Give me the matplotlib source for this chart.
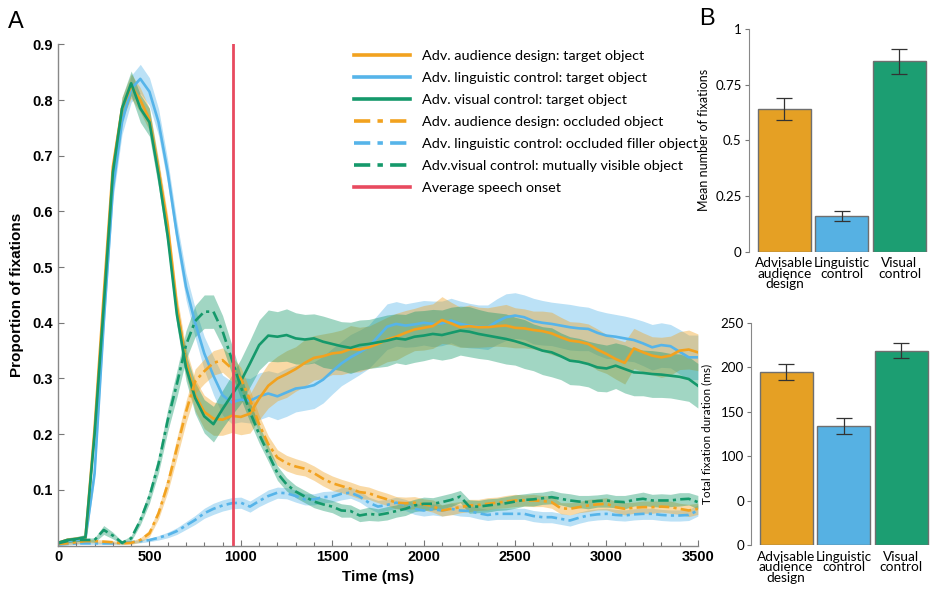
import numpy as np
import matplotlib
matplotlib.use('Agg')
import matplotlib.pyplot as plt
from matplotlib.lines import Line2D
from matplotlib.ticker import MultipleLocator

# time axis of the eye-tracking curves, 50 ms bins
time_ms = np.arange(0, 3501, 50)

# mean proportion of fixations per condition
ad_target = [
    0.005, 0.010, 0.012, 0.014, 0.210, 0.450, 0.680, 0.785, 0.825, 0.800,
    0.765, 0.675, 0.575, 0.430, 0.330, 0.270, 0.240, 0.228, 0.226, 0.233,
    0.231, 0.237, 0.264, 0.287, 0.300, 0.308, 0.317, 0.328, 0.337, 0.340,
    0.345, 0.347, 0.353, 0.352, 0.356, 0.362, 0.370, 0.375, 0.382, 0.388,
    0.391, 0.394, 0.405, 0.399, 0.392, 0.394, 0.392, 0.392, 0.394, 0.395,
    0.391, 0.390, 0.387, 0.385, 0.381, 0.374, 0.368, 0.366, 0.362, 0.352,
    0.344, 0.335, 0.328, 0.354, 0.347, 0.341, 0.338, 0.341, 0.350, 0.352,
    0.347]
lc_target = [
    0.004, 0.008, 0.010, 0.012, 0.130, 0.400, 0.640, 0.760, 0.820, 0.838,
    0.815, 0.760, 0.670, 0.560, 0.465, 0.400, 0.345, 0.305, 0.270, 0.257,
    0.262, 0.260, 0.268, 0.273, 0.268, 0.275, 0.282, 0.284, 0.288, 0.298,
    0.313, 0.327, 0.338, 0.347, 0.357, 0.375, 0.393, 0.398, 0.395, 0.397,
    0.400, 0.398, 0.399, 0.404, 0.398, 0.395, 0.393, 0.392, 0.402, 0.410,
    0.413, 0.410, 0.403, 0.400, 0.398, 0.395, 0.392, 0.390, 0.389, 0.382,
    0.377, 0.375, 0.372, 0.369, 0.363, 0.356, 0.360, 0.358, 0.348, 0.338,
    0.338]
vc_target = [
    0.005, 0.010, 0.012, 0.015, 0.200, 0.430, 0.670, 0.785, 0.830, 0.785,
    0.760, 0.665, 0.555, 0.415, 0.320, 0.265, 0.232, 0.218, 0.245, 0.270,
    0.295, 0.327, 0.360, 0.377, 0.375, 0.378, 0.372, 0.370, 0.372, 0.366,
    0.362, 0.358, 0.355, 0.360, 0.362, 0.365, 0.368, 0.372, 0.370, 0.375,
    0.377, 0.380, 0.378, 0.382, 0.386, 0.384, 0.380, 0.377, 0.374, 0.371,
    0.367, 0.362, 0.356, 0.350, 0.347, 0.340, 0.332, 0.330, 0.326, 0.320,
    0.318, 0.323, 0.317, 0.311, 0.310, 0.308, 0.307, 0.305, 0.303, 0.299,
    0.287]
ad_occluded = [
    0.003, 0.004, 0.006, 0.008, 0.008, 0.007, 0.006, 0.004, 0.005, 0.010,
    0.022, 0.058, 0.110, 0.175, 0.240, 0.295, 0.313, 0.328, 0.333, 0.318,
    0.300, 0.262, 0.218, 0.182, 0.158, 0.148, 0.142, 0.138, 0.130, 0.120,
    0.112, 0.107, 0.102, 0.096, 0.094, 0.088, 0.083, 0.077, 0.076, 0.077,
    0.074, 0.071, 0.063, 0.066, 0.069, 0.072, 0.073, 0.075, 0.077, 0.079,
    0.081, 0.081, 0.081, 0.080, 0.078, 0.067, 0.066, 0.069, 0.072, 0.074,
    0.075, 0.069, 0.066, 0.068, 0.069, 0.069, 0.070, 0.069, 0.066, 0.063,
    0.066]
lc_filler = [
    0.002, 0.003, 0.004, 0.004, 0.004, 0.004, 0.004, 0.005, 0.006, 0.008,
    0.010, 0.014, 0.019, 0.026, 0.036, 0.046, 0.058, 0.066, 0.072, 0.076,
    0.077, 0.070, 0.080, 0.089, 0.095, 0.094, 0.089, 0.083, 0.083, 0.087,
    0.088, 0.093, 0.095, 0.088, 0.077, 0.070, 0.073, 0.077, 0.073, 0.066,
    0.063, 0.065, 0.063, 0.066, 0.063, 0.062, 0.058, 0.055, 0.057, 0.057,
    0.057, 0.057, 0.053, 0.051, 0.051, 0.048, 0.045, 0.050, 0.054, 0.056,
    0.057, 0.055, 0.054, 0.056, 0.057, 0.057, 0.055, 0.054, 0.054, 0.055,
    0.063]
vc_visible = [
    0.004, 0.008, 0.010, 0.010, 0.010, 0.028, 0.018, 0.005, 0.013, 0.045,
    0.088, 0.147, 0.225, 0.290, 0.360, 0.403, 0.420, 0.420, 0.385, 0.335,
    0.285, 0.240, 0.200, 0.165, 0.130, 0.110, 0.097, 0.088, 0.079, 0.074,
    0.070, 0.063, 0.062, 0.054, 0.057, 0.055, 0.058, 0.062, 0.066, 0.072,
    0.075, 0.075, 0.078, 0.082, 0.088, 0.070, 0.070, 0.072, 0.074, 0.076,
    0.079, 0.082, 0.083, 0.085, 0.087, 0.084, 0.081, 0.079, 0.078, 0.080,
    0.081, 0.079, 0.078, 0.082, 0.084, 0.081, 0.081, 0.081, 0.083, 0.084,
    0.078]

# half-width of the shaded confidence band for each curve
ad_target_ci = [
    0.003, 0.004, 0.004, 0.005, 0.012, 0.015, 0.018, 0.020, 0.022, 0.022,
    0.020, 0.018, 0.018, 0.020, 0.024, 0.028, 0.030, 0.030, 0.028, 0.030,
    0.032, 0.035, 0.038, 0.040, 0.040, 0.042, 0.040, 0.042, 0.040, 0.040,
    0.038, 0.040, 0.042, 0.040, 0.038, 0.040, 0.040, 0.042, 0.040, 0.038,
    0.040, 0.040, 0.042, 0.038, 0.036, 0.038, 0.036, 0.035, 0.036, 0.038,
    0.036, 0.035, 0.034, 0.036, 0.038, 0.036, 0.034, 0.035, 0.036, 0.037,
    0.035, 0.036, 0.038, 0.036, 0.035, 0.034, 0.036, 0.035, 0.034, 0.035,
    0.033]
lc_target_ci = [
    0.003, 0.004, 0.004, 0.005, 0.012, 0.016, 0.020, 0.022, 0.024, 0.026,
    0.025, 0.024, 0.022, 0.022, 0.024, 0.026, 0.030, 0.034, 0.036, 0.038,
    0.040, 0.040, 0.042, 0.041, 0.042, 0.043, 0.042, 0.041, 0.042, 0.042,
    0.041, 0.040, 0.041, 0.040, 0.039, 0.040, 0.041, 0.040, 0.039, 0.040,
    0.040, 0.041, 0.040, 0.040, 0.041, 0.040, 0.039, 0.040, 0.041, 0.042,
    0.041, 0.040, 0.041, 0.040, 0.039, 0.040, 0.041, 0.040, 0.039, 0.040,
    0.041, 0.040, 0.040, 0.039, 0.040, 0.041, 0.040, 0.039, 0.040, 0.040,
    0.040]
vc_target_ci = [
    0.003, 0.004, 0.004, 0.005, 0.012, 0.015, 0.018, 0.020, 0.022, 0.025,
    0.025, 0.022, 0.020, 0.020, 0.024, 0.028, 0.030, 0.032, 0.034, 0.036,
    0.040, 0.042, 0.045, 0.046, 0.045, 0.047, 0.046, 0.045, 0.044, 0.046,
    0.045, 0.044, 0.046, 0.045, 0.044, 0.045, 0.046, 0.044, 0.045, 0.046,
    0.045, 0.044, 0.045, 0.046, 0.044, 0.045, 0.044, 0.043, 0.044, 0.045,
    0.043, 0.044, 0.042, 0.043, 0.044, 0.042, 0.043, 0.042, 0.041, 0.043,
    0.042, 0.041, 0.043, 0.042, 0.041, 0.042, 0.041, 0.040, 0.041, 0.040,
    0.040]
ad_occluded_ci = [
    0.002, 0.002, 0.003, 0.003, 0.003, 0.003, 0.003, 0.002, 0.003, 0.004,
    0.006, 0.010, 0.014, 0.018, 0.020, 0.022, 0.022, 0.022, 0.022, 0.022,
    0.020, 0.018, 0.016, 0.015, 0.014, 0.014, 0.014, 0.013, 0.013, 0.013,
    0.013, 0.012, 0.012, 0.012, 0.011, 0.011, 0.011, 0.011, 0.011, 0.011,
    0.010, 0.011, 0.010, 0.011, 0.010, 0.011, 0.010, 0.011, 0.010, 0.011,
    0.011, 0.010, 0.011, 0.010, 0.011, 0.010, 0.011, 0.010, 0.011, 0.010,
    0.011, 0.010, 0.011, 0.010, 0.011, 0.011, 0.010, 0.011, 0.010, 0.011,
    0.010]
lc_filler_ci = [
    0.002, 0.002, 0.002, 0.002, 0.002, 0.002, 0.002, 0.002, 0.002, 0.003,
    0.003, 0.004, 0.005, 0.006, 0.007, 0.008, 0.009, 0.010, 0.010, 0.010,
    0.010, 0.010, 0.010, 0.011, 0.010, 0.010, 0.011, 0.010, 0.010, 0.010,
    0.010, 0.011, 0.010, 0.010, 0.010, 0.011, 0.010, 0.010, 0.010, 0.010,
    0.010, 0.010, 0.010, 0.010, 0.010, 0.010, 0.010, 0.010, 0.010, 0.010,
    0.010, 0.010, 0.010, 0.010, 0.010, 0.010, 0.010, 0.010, 0.010, 0.010,
    0.010, 0.010, 0.010, 0.010, 0.010, 0.010, 0.010, 0.010, 0.010, 0.010,
    0.010]
vc_visible_ci = [
    0.002, 0.003, 0.003, 0.003, 0.004, 0.008, 0.006, 0.003, 0.005, 0.008,
    0.012, 0.016, 0.020, 0.024, 0.026, 0.028, 0.030, 0.030, 0.028, 0.026,
    0.022, 0.018, 0.016, 0.014, 0.013, 0.012, 0.011, 0.011, 0.011, 0.011,
    0.011, 0.012, 0.011, 0.011, 0.012, 0.011, 0.012, 0.011, 0.012, 0.011,
    0.012, 0.011, 0.012, 0.012, 0.011, 0.012, 0.011, 0.012, 0.011, 0.012,
    0.012, 0.011, 0.012, 0.011, 0.012, 0.011, 0.012, 0.011, 0.012, 0.011,
    0.012, 0.011, 0.012, 0.011, 0.012, 0.011, 0.012, 0.011, 0.012, 0.011,
    0.012]

speech_onset_ms = 955

# panel B: per-condition bar values and error bars
conditions = ['Advisable\naudience\ndesign', 'Linguistic\ncontrol', 'Visual\ncontrol']
mean_fixations = [0.64, 0.16, 0.855]
mean_fixations_err = [0.05, 0.023, 0.055]
total_duration = [195, 134, 219]
total_duration_err = [9, 9, 8]
duration_tick_labels = ['0', '0', '100', '150', '200', '250']

ORANGE = '#F2A21F'
BLUE = '#56B4E9'
GREEN = '#15996B'
RED = '#E84A5F'
BAR_COLORS = ['#E5A024', '#56B1E3', '#1C9E72']
DASHDOT = (0, (4, 1.6, 1.2, 1.6))

TICK_FONT = 'Liberation Sans'
LABEL_FONT = 'Lato'


def plot_time_course(ax):
    """Fixation proportion over time with confidence bands"""
    series = [
        (lc_target, lc_target_ci, BLUE, '-'),
        (ad_target, ad_target_ci, ORANGE, '-'),
        (vc_target, vc_target_ci, GREEN, '-'),
        (lc_filler, lc_filler_ci, BLUE, DASHDOT),
        (ad_occluded, ad_occluded_ci, ORANGE, DASHDOT),
        (vc_visible, vc_visible_ci, GREEN, DASHDOT),
    ]
    for mean, ci, color, _ in series:
        mean = np.array(mean)
        ci = np.array(ci)
        ax.fill_between(time_ms, mean - ci, mean + ci, color=color,
                        alpha=0.4, linewidth=0)
    for mean, _, color, ls in series:
        ax.plot(time_ms, mean, color=color, linestyle=ls, linewidth=1.9)

    ax.axvline(speech_onset_ms, color=RED, linewidth=2.0)

    ax.set_xlim(0, 3500)
    ax.set_ylim(0, 0.9)
    ax.set_xticks(range(0, 3501, 500))
    ax.xaxis.set_minor_locator(MultipleLocator(100))
    ax.set_yticks([0.1, 0.2, 0.3, 0.4, 0.5, 0.6, 0.7, 0.8, 0.9])
    ax.set_yticklabels(['0.1', '0.2', '0.3', '0.4', '0.5', '0.6', '0.7', '0.8', '0.9'])
    for lab in ax.get_xticklabels() + ax.get_yticklabels():
        lab.set_fontfamily(TICK_FONT)
        lab.set_fontweight('bold')
        lab.set_fontsize(10.5)
    ax.tick_params(which='both', direction='in', color='#777777', width=0.8)
    ax.tick_params(which='major', length=4)
    ax.tick_params(which='minor', length=3)
    for side in ['top', 'right']:
        ax.spines[side].set_visible(False)
    for side in ['left', 'bottom']:
        ax.spines[side].set_color('#888888')
        ax.spines[side].set_linewidth(1.0)

    ax.set_xlabel('Time (ms)', fontfamily=TICK_FONT, fontweight='bold',
                  fontsize=11, labelpad=4)
    ax.set_ylabel('Proportion of fixations', fontfamily=TICK_FONT,
                  fontweight='bold', fontsize=11, labelpad=6)

    key_dash = (0, (4.5, 2, 1.5, 2))
    handles = [
        Line2D([], [], color=ORANGE, lw=2.6),
        Line2D([], [], color=BLUE, lw=2.6),
        Line2D([], [], color=GREEN, lw=2.6),
        Line2D([], [], color=ORANGE, lw=2.6, ls=key_dash),
        Line2D([], [], color=BLUE, lw=2.6, ls=key_dash),
        Line2D([], [], color=GREEN, lw=2.6, ls=key_dash),
        Line2D([], [], color=RED, lw=2.6),
    ]
    labels = [
        'Adv. audience design: target object',
        'Adv. linguistic control: target object',
        'Adv. visual control: target object',
        'Adv. audience design: occluded object',
        'Adv. linguistic control: occluded filler object',
        'Adv.visual control: mutually visible object',
        'Average speech onset',
    ]
    ax.legend(handles, labels, loc='upper left', bbox_to_anchor=(0.447, 1.008),
              frameon=False, prop={'family': LABEL_FONT, 'size': 10.35},
              handlelength=3.86, handletextpad=0.83, labelspacing=0.69,
              borderpad=0.2)


def plot_bars(ax, values, errors, ylim, yticks, yticklabels, ylabel, xlim,
              label_size, label_x):
    """Bar chart with error bars for panel B"""
    x = np.arange(len(values))
    ax.bar(x, values, width=0.92, color=BAR_COLORS, edgecolor='#6f6f6f',
           linewidth=1.0)
    ax.errorbar(x, values, yerr=errors, fmt='none', ecolor='#333333',
                elinewidth=0.9, capsize=6, capthick=0.9)
    ax.set_xlim(*xlim)
    ax.set_ylim(*ylim)
    ax.set_yticks(yticks)
    ax.set_yticklabels(yticklabels, fontfamily=LABEL_FONT, fontsize=9.6)
    ax.set_xticks(x)
    ax.set_xticklabels(conditions, fontfamily=LABEL_FONT, fontsize=9.8,
                       linespacing=0.85, va='top')
    ax.tick_params(axis='x', length=0, pad=4)
    ax.tick_params(axis='y', length=3, color='#777777', width=0.8, pad=2)
    for side in ['top', 'right', 'bottom']:
        ax.spines[side].set_visible(False)
    ax.spines['left'].set_color('#888888')
    ax.set_ylabel(ylabel, fontfamily=LABEL_FONT, fontsize=label_size)
    ax.yaxis.set_label_coords(label_x, 0.5)


fig = plt.figure(figsize=(9.3, 5.9), dpi=100)

ax_a = fig.add_axes([0.0624, 0.0753, 0.688, 0.8496])
plot_time_course(ax_a)

ax_b1 = fig.add_axes([0.805, 0.573, 0.195, 0.378])
plot_bars(ax_b1, mean_fixations, mean_fixations_err, (0, 1),
          [0, 0.25, 0.5, 0.75, 1], ['0', '0.25', '0.5', '0.75', '1'],
          'Mean number of fixations', (-0.62, 2.53), 9.0, -0.215)

ax_b2 = fig.add_axes([0.8075, 0.0763, 0.1925, 0.3762])
plot_bars(ax_b2, total_duration, total_duration_err, (0, 250),
          [0, 50, 100, 150, 200, 250], duration_tick_labels,
          'Total fixation duration (ms)', (-0.61, 2.5), 8.5, -0.215)

fig.text(0.009, 0.962, 'A', fontfamily=TICK_FONT, fontsize=17, va='center')
fig.text(0.752, 0.968, 'B', fontfamily=TICK_FONT, fontsize=17, va='center')

fig.savefig('out.png', dpi=100)
